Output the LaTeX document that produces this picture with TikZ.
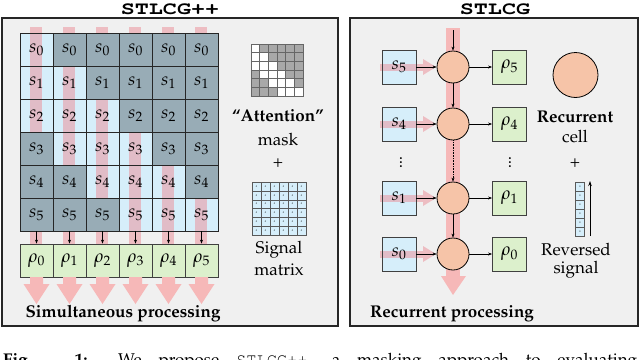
\documentclass[tikz,border=0pt]{standalone}
\usepackage[T1]{fontenc}
\usepackage{mathpazo}
\usepackage{courier}
\usepackage{graphicx}
\usetikzlibrary{arrows.meta}
\definecolor{panelbg}{RGB}{240,240,240}
\definecolor{lightcell}{RGB}{214,238,250}
\definecolor{darkcell}{RGB}{152,172,182}
\definecolor{pinkst}{RGB}{236,140,150}
\definecolor{pinkar}{RGB}{246,184,184}
\definecolor{rhogreen}{RGB}{220,240,204}
\definecolor{peach}{RGB}{246,196,168}
\definecolor{maskgray}{RGB}{168,168,168}
\begin{document}
\begin{tikzpicture}[x=1pt,y=-1pt,
  panel/.style={draw=black!85,line width=1.2pt,fill=panelbg},
  cellbox/.style={draw=black!85,line width=0.8pt,minimum size=33pt,inner sep=0pt,font=\fontsize{18}{20}\selectfont},
  rhobox/.style={draw=black!75,line width=0.8pt,fill=rhogreen,minimum size=33pt,inner sep=0pt,font=\fontsize{18}{20}\selectfont},
  sbox/.style={draw=black!75,line width=0.8pt,minimum size=34pt,inner sep=0pt,font=\fontsize{18}{20}\selectfont},
  rcell/.style={circle,draw=black,line width=0.8pt,fill=peach,minimum size=32pt,inner sep=0pt},
  maskcell/.style={draw=black!60,line width=0.4pt,minimum size=8.67pt,inner sep=0pt},
  sigcell/.style={draw=black!65,line width=0.4pt,fill=lightcell,minimum width=9pt,minimum height=8.8pt,inner sep=0pt,font=\fontsize{3.5}{4}\selectfont},
  smallarrow/.style={-{Stealth[length=4pt,width=3pt]},line width=0.6pt},
  lbl/.style={font=\fontsize{17}{20}\selectfont,inner sep=0pt},
  blbl/.style={font=\fontsize{17}{20}\selectfont\bfseries,inner sep=0pt},
  ttl/.style={font=\fontsize{18}{20}\selectfont\ttfamily\bfseries,inner sep=0pt}]
\useasboundingbox (0,0) rectangle (640,359);
% titles
\node[ttl] (t1) at (170,9) {\scalebox{1.3}[1]{STLCG++}};
\node[ttl] (t2) at (495,9) {\scalebox{1.3}[1]{STLCG}};
% panels
\draw[panel] (2,18) rectangle (338,326);
\draw[panel] (350,18) rectangle (638,326);
% ---------- left panel ----------
\foreach \i in {0,...,5}{\foreach \j in {0,...,5}{
  \fill[lightcell] (20+33*\i,33+33*\j) rectangle ++(33,33);}}
\foreach \i in {0,...,5}{
  \fill[pinkst,opacity=0.5] (30+33*\i,27) rectangle ++(12,217);}
\foreach \i in {0,...,5}{\foreach \j in {0,...,5}{
  \pgfmathtruncatemacro\d{\j-\i}
  \ifnum\d<0 \def\cf{darkcell}\else\ifnum\d>2 \def\cf{darkcell}\else\def\cf{none}\fi\fi
  \node[cellbox,fill=\cf] (c\i\j) at (36.5+33*\i,49.5+33*\j) {$s_{\j}$};}}
\foreach \i in {0,...,5}{
  \node[rhobox] (r\i) at (36.5+33*\i,260.5) {$\rho_{\i}$};
  \draw[smallarrow] (c\i5.south) -- (r\i.north);
  \fill[pinkar] (30+33*\i,277) -- (43+33*\i,277) -- (43+33*\i,284) -- (49.5+33*\i,284)
     -- (36.5+33*\i,304) -- (23.5+33*\i,284) -- (30+33*\i,284) -- cycle;}
\node[blbl] (simp) at (123,314) {Simultaneous processing};
% mask
\foreach \i in {0,...,5}{\foreach \j in {0,...,5}{
  \pgfmathtruncatemacro\d{\j-\i}
  \ifnum\d<0 \def\cf{maskgray}\else\ifnum\d>2 \def\cf{maskgray}\else\def\cf{white}\fi\fi
  \node[maskcell,fill=\cf] (m\i\j) at (255.3+8.67*\i,48.3+8.67*\j) {};}}
\node[blbl] (att) at (278,116) {``Attention''};
\node[lbl] (mask) at (278,140) {mask};
\node[lbl] (plus1) at (278,163) {+};
% signal matrix
\foreach \i in {0,...,5}{\foreach \j in {0,...,5}{
  \node[sigcell] (g\i\j) at (256.5+9*\i,186.5+8.8*\j) {\textit{s}};}}
\node[lbl] (sig) at (279,250) {Signal};
\node[lbl] (mat) at (279,270) {matrix};
% ---------- right panel ----------
\fill[pinkar] (446,28) rectangle (460,276);
\fill[pinkar] (441,276) -- (466,276) -- (453,295) -- cycle;
\foreach \y in {67,124,198,254}{
  \fill[lightcell] (382,\y-17) rectangle (416,\y+17);
  \fill[pinkst,opacity=0.5] (380,\y-3.5) rectangle (423,\y+3.5);
  \fill[pinkst,opacity=0.5] (423,\y-8) -- (436,\y) -- (423,\y+8) -- cycle;}
\node[sbox] (s5) at (399,67) {$s_5$};
\node[sbox] (s4) at (399,124) {$s_4$};
\node[sbox] (s1) at (399,198) {$s_1$};
\node[sbox] (s0) at (399,254) {$s_0$};
\node[rcell] (k5) at (453,67) {};
\node[rcell] (k4) at (453,124) {};
\node[rcell] (k1) at (453,198) {};
\node[rcell] (k0) at (453,254) {};
\node[sbox,fill=rhogreen] (q5) at (509.5,67) {$\rho_5$};
\node[sbox,fill=rhogreen] (q4) at (509.5,124) {$\rho_4$};
\node[sbox,fill=rhogreen] (q1) at (509.5,198) {$\rho_1$};
\node[sbox,fill=rhogreen] (q0) at (509.5,254) {$\rho_0$};
\node[lbl] (d1) at (401,160) {$\vdots$};
\node[lbl] (d2) at (510,160) {$\vdots$};
\coordinate (top) at (453,30);
\draw[smallarrow] (top) -- (k5.north);
\draw[smallarrow] (k5.south) -- (k4.north);
\draw[smallarrow,densely dotted] (k4.south) -- (k1.north);
\draw[smallarrow] (k1.south) -- (k0.north);
\foreach \n in {5,4,1,0}{
  \draw[smallarrow] (s\n.east) -- (k\n.west);
  \draw[smallarrow] (k\n.east) -- (q\n.west);}
\node[blbl] (recp) at (452,314) {Recurrent processing};
% legend
\node[circle,draw=black,line width=0.8pt,fill=peach,minimum size=45pt,inner sep=0pt] (bigc) at (575.5,75) {};
\node[blbl] (rec) at (575,117) {Recurrent};
\node[lbl] (cell) at (575,137) {cell};
\node[lbl] (plus2) at (575,163) {+};
\foreach \j in {0,...,5}{
  \node[sigcell] (v\j) at (580,186.5+9*\j) {\textit{s}};}
\coordinate (ra1) at (590,236);
\coordinate (ra2) at (590,181);
\draw[-{Stealth[length=5pt,width=3.5pt]},line width=0.8pt] (ra1) -- (ra2);
\node[lbl] (rev) at (576,250) {Reversed};
\node[lbl] (sgn) at (576,270) {signal};
% caption (cut off)
\begin{scope}
\clip (0,0) rectangle (640,359);
\node[anchor=base west,inner sep=0pt,font=\fontsize{17}{20}\selectfont] (cap) at (3,365)
  {\makebox[634pt][s]{\textbf{Fig. 1:} We propose \texttt{STLCG++}, a masking approach to evaluating}};
\end{scope}
\end{tikzpicture}
\end{document}
